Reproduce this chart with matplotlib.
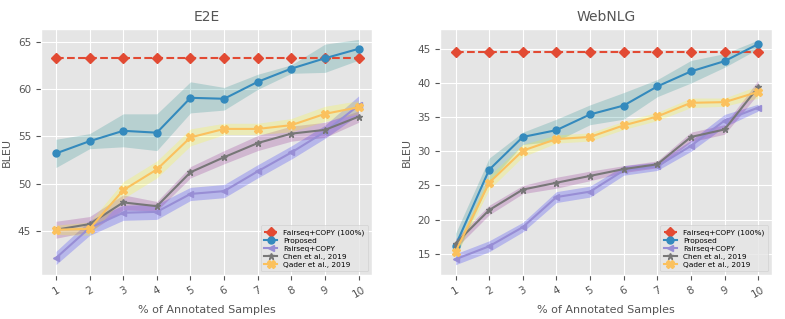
import matplotlib
matplotlib.use("Agg")
import matplotlib.pyplot as plt
import numpy as np

plt.style.use("ggplot")

x = np.arange(1, 11)
xlabels = [str(i) for i in x]

# E2E
e2e_full = [63.3] * 10
e2e_prop = [53.2, 54.5, 55.6, 55.4, 59.1, 59.0, 60.8, 62.2, 63.3, 64.3]
e2e_prop_lo = [51.7, 53.7, 53.9, 53.5, 57.5, 57.8, 60.0, 61.7, 61.8, 63.1]
e2e_prop_hi = [54.7, 55.3, 57.4, 57.4, 60.8, 60.2, 61.6, 62.6, 64.8, 65.3]
e2e_fair = [42.1, 45.3, 46.9, 47.0, 48.9, 49.2, 51.3, 53.3, 55.5, 58.3]
e2e_fair_err = [0.7, 0.8, 0.8, 0.8, 0.7, 0.7, 0.7, 0.7, 0.7, 1.0]
e2e_chen = [45.1, 45.7, 48.0, 47.6, 51.2, 52.8, 54.3, 55.3, 55.7, 57.1]
e2e_chen_err = [0.9, 0.8, 0.8, 0.5, 0.6, 0.7, 0.8, 0.8, 0.8, 0.6]
e2e_qader = [45.1, 45.2, 49.3, 51.5, 54.9, 55.8, 55.8, 56.2, 57.4, 58.1]
e2e_qader_err = [0.5, 0.7, 0.9, 0.9, 0.9, 0.6, 0.6, 0.7, 0.8, 0.7]

# WebNLG
web_full = [44.6] * 10
web_prop = [16.2, 27.3, 32.1, 33.1, 35.4, 36.7, 39.5, 41.7, 43.2, 45.7]
web_prop_lo = [14.5, 25.5, 31.0, 31.5, 33.9, 34.7, 38.0, 40.0, 42.3, 45.0]
web_prop_hi = [18.0, 29.0, 32.8, 34.7, 36.8, 38.6, 40.5, 43.3, 44.3, 46.3]
web_fair = [14.2, 16.1, 18.9, 23.3, 24.1, 27.2, 27.8, 30.8, 34.5, 36.4]
web_fair_err = [0.8, 0.8, 0.7, 0.8, 0.8, 0.7, 0.6, 0.8, 0.9, 0.5]
web_chen = [16.5, 21.4, 24.4, 25.4, 26.4, 27.4, 28.1, 32.1, 33.2, 39.4]
web_chen_err = [0.7, 0.7, 0.6, 0.8, 0.7, 0.5, 0.5, 0.7, 0.7, 1.0]
web_qader = [15.3, 25.4, 30.1, 31.8, 32.1, 33.8, 35.1, 37.1, 37.2, 38.7]
web_qader_err = [0.7, 1.0, 0.9, 0.6, 0.6, 0.6, 0.6, 0.7, 0.6, 0.9]


def band(ax, y, err, color):
    y = np.array(y)
    err = np.array(err)
    ax.fill_between(x, y - err, y + err, color=color, alpha=0.2, lw=0)


def panel(ax, title, full, prop, plo, phi, fair, ferr, chen, cerr, qader, qerr, ylim, yticks):
    ax.fill_between(x, plo, phi, color="teal", alpha=0.2, lw=0)
    band(ax, fair, ferr, "blue")
    band(ax, chen, cerr, "purple")
    band(ax, qader, qerr, "yellow")
    ax.plot(x, full, "--D", color="#E24A33", ms=5, label="Fairseq+COPY (100%)")
    ax.plot(x, prop, "-o", color="#348ABD", ms=5, label="Proposed")
    ax.plot(x, fair, "-<", color="#988ED5", ms=5, label="Fairseq+COPY")
    ax.plot(x, chen, "-*", color="#777777", ms=5, label="Chen et al., 2019")
    ax.plot(x, qader, "-X", color="#FBC15E", ms=6, label="Qader et al., 2019")
    ax.set_title(title, fontsize=10, color="#555555")
    ax.set_xlabel("% of Annotated Samples", fontsize=8, color="#555555")
    ax.set_ylabel("BLEU", fontsize=8, color="#555555")
    ax.set_xticks(x)
    ax.set_xticklabels(xlabels, rotation=30, fontsize=7.5)
    ax.set_yticks(yticks)
    ax.tick_params(axis="y", labelsize=7.5)
    ax.set_xlim(0.55, 10.4)
    ax.set_ylim(*ylim)
    ax.legend(loc="lower right", fontsize=5.3, facecolor="#E5E5E5", framealpha=0.8,
              labelspacing=0.25, borderpad=0.5, handlelength=1.8)


fig = plt.figure(figsize=(7.85, 3.19), dpi=100)
ax1 = fig.add_axes([0.052, 0.138, 0.422, 0.771])
ax2 = fig.add_axes([0.561, 0.138, 0.422, 0.771])

panel(ax1, "E2E", e2e_full, e2e_prop, e2e_prop_lo, e2e_prop_hi, e2e_fair, e2e_fair_err,
      e2e_chen, e2e_chen_err, e2e_qader, e2e_qader_err, (40.3, 66.4), [45, 50, 55, 60, 65])
panel(ax2, "WebNLG", web_full, web_prop, web_prop_lo, web_prop_hi, web_fair, web_fair_err,
      web_chen, web_chen_err, web_qader, web_qader_err, (11.9, 47.9), [15, 20, 25, 30, 35, 40, 45])

fig.savefig("out.png", dpi=100)
